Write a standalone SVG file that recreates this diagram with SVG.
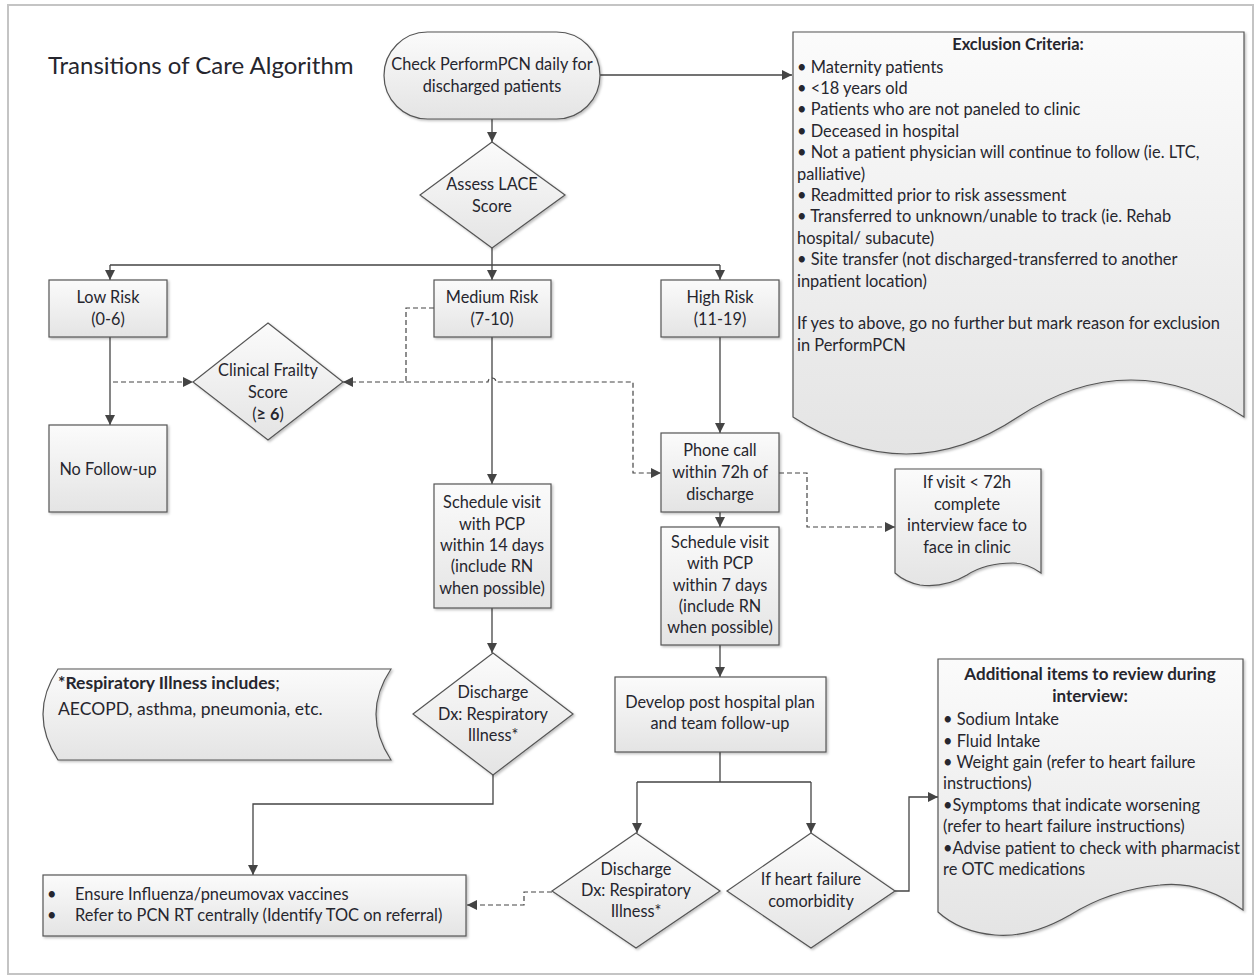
<svg xmlns="http://www.w3.org/2000/svg" width="1259" height="977" viewBox="0 0 1259 977">
<style>
.t{font-family:Lato,"Open Sans","Liberation Sans",sans-serif;font-size:16.3px;fill:#26262e}
.c{text-anchor:middle}
.b{font-weight:bold}
.s{font-size:16.4px}
.shape{fill:url(#g);stroke:#555;stroke-width:1.2;filter:url(#sh)}
.ln{fill:none;stroke:#444;stroke-width:1.3}
.dl{fill:none;stroke:#444;stroke-width:1.2;stroke-dasharray:5,3}
</style>
<defs>
<linearGradient id="g" x1="0" y1="0" x2="0" y2="1">
<stop offset="0" stop-color="#fbfbfb"/>
<stop offset="1" stop-color="#e4e4e4"/>
</linearGradient>
<filter id="sh" x="-5%" y="-5%" width="115%" height="120%">
<feDropShadow dx="1.5" dy="1.5" stdDeviation="1" flood-color="#000" flood-opacity="0.25"/>
</filter>
<marker id="a" viewBox="0 0 10 10" refX="10" refY="5" markerWidth="10" markerHeight="10" markerUnits="userSpaceOnUse" orient="auto">
<path d="M0,0 L10,5 L0,10 z" fill="#444"/>
</marker>
</defs>
<rect x="0" y="0" width="1259" height="977" fill="#fff"/>
<rect x="8" y="5" width="1245" height="969" fill="none" stroke="#c4c4c4" stroke-width="2"/>
<text class="t" x="48" y="74" style="font-size:24px">Transitions of Care Algorithm</text>

<g id="connectors">
<path class="ln" d="M492,119 V142" marker-end="url(#a)"/>
<path class="ln" d="M600,75 H792" marker-end="url(#a)"/>
<path class="ln" d="M492,248 V265 M110,265 H720"/>
<path class="ln" d="M110,265 V280" marker-end="url(#a)"/>
<path class="ln" d="M492,265 V280" marker-end="url(#a)"/>
<path class="ln" d="M720,265 V280" marker-end="url(#a)"/>
<path class="ln" d="M110,337 V425" marker-end="url(#a)"/>
<path class="dl" d="M113,382 H193" marker-end="url(#a)"/>
<path class="dl" d="M434,308 H406 V382 H343" marker-end="url(#a)"/>
<path class="dl" d="M406,382 H488 A4,4 0 0 1 496,382 H633 V473 H661" marker-end="url(#a)"/>
<path class="ln" d="M492,337 V484" marker-end="url(#a)"/>
<path class="ln" d="M720,337 V433" marker-end="url(#a)"/>
<path class="ln" d="M720,512 V527" marker-end="url(#a)"/>
<path class="dl" d="M779,473 H807 V527 H895" marker-end="url(#a)"/>
<path class="ln" d="M492,608 V653" marker-end="url(#a)"/>
<path class="ln" d="M493,775 V804 H253 V875" marker-end="url(#a)"/>
<path class="ln" d="M720,645 V677" marker-end="url(#a)"/>
<path class="ln" d="M720,752 V782 M637,782 H811"/>
<path class="ln" d="M637,782 V833" marker-end="url(#a)"/>
<path class="ln" d="M811,782 V833" marker-end="url(#a)"/>
<path class="dl" d="M552,892 H524 V905 H467" marker-end="url(#a)"/>
<path class="ln" d="M895,891 H909 V797 H938" marker-end="url(#a)"/>
</g>

<g id="start">
<rect class="shape" x="384" y="32" width="216" height="87" rx="43.5"/>
<text class="t c" x="492" y="70">Check PerformPCN daily for</text>
<text class="t c" x="492" y="92">discharged patients</text>
</g>

<g id="lace">
<path class="shape" d="M492,142 L565,195 L492,248 L420,195 z"/>
<text class="t c" x="492" y="190">Assess LACE</text>
<text class="t c" x="492" y="212">Score</text>
</g>

<g id="exclusion">
<path class="shape" d="M793,32 H1244 V417 Q1131,343 1018,417 Q907,491 793,417 z"/>
<text class="t c b s" x="1018" y="50">Exclusion Criteria:</text>
<text class="t s" x="797" y="73">• Maternity patients</text>
<text class="t s" x="797" y="94">• &lt;18 years old</text>
<text class="t s" x="797" y="115">• Patients who are not paneled to clinic</text>
<text class="t s" x="797" y="137">• Deceased in hospital</text>
<text class="t s" x="797" y="158">• Not a patient physician will continue to follow (ie. LTC,</text>
<text class="t s" x="797" y="180">palliative)</text>
<text class="t s" x="797" y="201">• Readmitted prior to risk assessment</text>
<text class="t s" x="797" y="222">• Transferred to unknown/unable to track (ie. Rehab</text>
<text class="t s" x="797" y="244">hospital/ subacute)</text>
<text class="t s" x="797" y="265">• Site transfer (not discharged-transferred to another</text>
<text class="t s" x="797" y="287">inpatient location)</text>
<text class="t s" x="797" y="329">If yes to above, go no further but mark reason for exclusion</text>
<text class="t s" x="797" y="351">in PerformPCN</text>
</g>

<g id="low">
<rect class="shape" x="49" y="280" width="118" height="57"/>
<text class="t c" x="108" y="303">Low Risk</text>
<text class="t c" x="108" y="325">(0-6)</text>
</g>

<g id="medium">
<rect class="shape" x="434" y="280" width="117" height="57"/>
<text class="t c" x="492" y="303">Medium Risk</text>
<text class="t c" x="492" y="325">(7-10)</text>
</g>

<g id="high">
<rect class="shape" x="661" y="280" width="118" height="57"/>
<text class="t c" x="720" y="303">High Risk</text>
<text class="t c" x="720" y="325">(11-19)</text>
</g>

<g id="frailty">
<path class="shape" d="M268,323 L343,382 L268,440 L193,382 z"/>
<text class="t c" x="268" y="376">Clinical Frailty</text>
<text class="t c" x="268" y="398">Score</text>
<text class="t c" x="268" y="420">(<tspan class="b">≥ 6</tspan>)</text>
</g>

<g id="nofollow">
<rect class="shape" x="49" y="425" width="118" height="87"/>
<text class="t c" x="108" y="475">No Follow-up</text>
</g>

<g id="schedule14">
<rect class="shape" x="434" y="484" width="117" height="124"/>
<text class="t c" x="492" y="508">Schedule visit</text>
<text class="t c" x="492" y="530">with PCP</text>
<text class="t c" x="492" y="551">within 14 days</text>
<text class="t c" x="492" y="572">(include RN</text>
<text class="t c" x="492" y="594">when possible)</text>
</g>

<g id="phone">
<rect class="shape" x="661" y="433" width="118" height="79"/>
<text class="t c" x="720" y="456">Phone call</text>
<text class="t c" x="720" y="478">within 72h of</text>
<text class="t c" x="720" y="500">discharge</text>
</g>

<g id="visitnote">
<path class="shape" d="M895,469 H1041 V573 Q1027,563 1013,563 Q985,563 967,575 Q945,588 920,585 Q905,582 895,573 z"/>
<text class="t c" x="967" y="488">If visit &lt; 72h</text>
<text class="t c" x="967" y="510">complete</text>
<text class="t c" x="967" y="531">interview face to</text>
<text class="t c" x="967" y="553">face in clinic</text>
</g>

<g id="schedule7">
<rect class="shape" x="661" y="527" width="118" height="118"/>
<text class="t c" x="720" y="548">Schedule visit</text>
<text class="t c" x="720" y="569">with PCP</text>
<text class="t c" x="720" y="591">within 7 days</text>
<text class="t c" x="720" y="612">(include RN</text>
<text class="t c" x="720" y="633">when possible)</text>
</g>

<g id="respnote">
<path class="shape" d="M58,669 H391 Q361,714 391,760 H58 Q28,714 58,669 z"/>
<text class="t" x="58" y="689" style="font-size:17.5px"><tspan class="b">*Respiratory Illness includes</tspan>;</text>
<text class="t" x="58" y="715" style="font-size:17.5px">AECOPD, asthma, pneumonia, etc.</text>
</g>

<g id="discharge1">
<path class="shape" d="M493,653 L573,714 L493,775 L413,714 z"/>
<text class="t c" x="493" y="698">Discharge</text>
<text class="t c" x="493" y="720">Dx: Respiratory</text>
<text class="t c" x="493" y="741">Illness*</text>
</g>

<g id="develop">
<rect class="shape" x="615" y="677" width="211" height="75"/>
<text class="t c" x="720" y="708">Develop post hospital plan</text>
<text class="t c" x="720" y="729">and team follow-up</text>
</g>

<g id="vaccines">
<rect class="shape" x="43" y="875" width="423" height="61"/>
<text class="t s" x="47" y="900">•</text>
<text class="t s" x="75" y="900">Ensure Influenza/pneumovax vaccines</text>
<text class="t s" x="47" y="921">•</text>
<text class="t s" x="75" y="921">Refer to PCN RT centrally (Identify TOC on referral)</text>
</g>

<g id="discharge2">
<path class="shape" d="M636,833 L720,891 L636,948 L552,891 z"/>
<text class="t c" x="636" y="875">Discharge</text>
<text class="t c" x="636" y="896">Dx: Respiratory</text>
<text class="t c" x="636" y="917">Illness*</text>
</g>

<g id="heart">
<path class="shape" d="M811,833 L895,891 L811,948 L727,891 z"/>
<text class="t c" x="811" y="885">If heart failure</text>
<text class="t c" x="811" y="907">comorbidity</text>
</g>

<g id="additional">
<path class="shape" d="M938,659 H1243 V910 Q1200,880 1160,885 Q1110,890 1070,915 Q1030,938 995,935 Q960,932 938,912 z"/>
<text class="t c b" x="1090" y="680" style="font-size:17px">Additional items to review during</text>
<text class="t c b" x="1090" y="702" style="font-size:17px">interview:</text>
<text class="t s" x="943" y="725">• Sodium Intake</text>
<text class="t s" x="943" y="747">• Fluid Intake</text>
<text class="t s" x="943" y="768">• Weight gain (refer to heart failure</text>
<text class="t s" x="943" y="789">instructions)</text>
<text class="t s" x="943" y="811">•Symptoms that indicate worsening</text>
<text class="t s" x="943" y="832">(refer to heart failure instructions)</text>
<text class="t s" x="943" y="854">•Advise patient to check with pharmacist</text>
<text class="t s" x="943" y="875">re OTC medications</text>
</g>
</svg>
